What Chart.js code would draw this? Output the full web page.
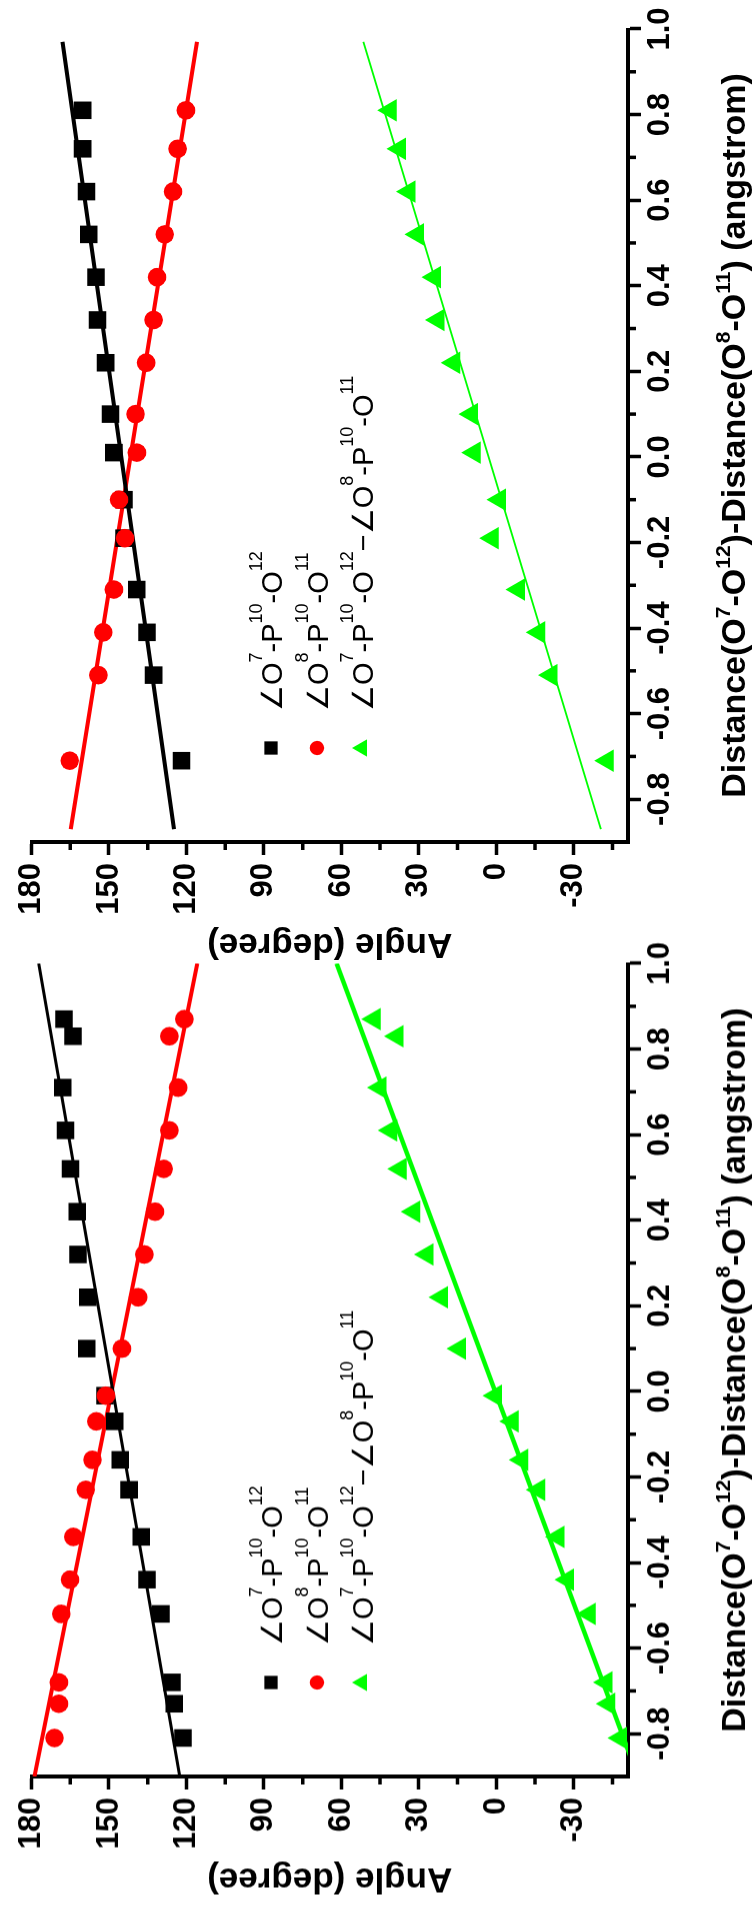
<!DOCTYPE html>
<html>
<head>
<meta charset="utf-8">
<script src="https://cdn.jsdelivr.net/npm/chart.js@4.4.0/dist/chart.umd.min.js"></script>
<style>
html, body { margin: 0; padding: 0; background: #fff; }
body { width: 754px; height: 1911px; position: relative; overflow: hidden; }
.panel { position: absolute; left: 0; top: 0; width: 977px; height: 754px; transform-origin: 0 0; }
#p1 { transform: translate(0px, 977px) rotate(-90deg); }
#p2 { transform: translate(0px, 1911.5px) rotate(-90deg); }
</style>
</head>
<body>
<div class="panel" id="p1"><canvas id="c1" width="977" height="754"></canvas></div>
<div class="panel" id="p2"><canvas id="c2" width="977" height="754"></canvas></div>
<script>
// axis ticks
var distTicks = [-0.8, -0.6, -0.4, -0.2, 0.0, 0.2, 0.4, 0.6, 0.8, 1.0];
var distMinor = [-0.7, -0.5, -0.3, -0.1, 0.1, 0.3, 0.5, 0.7, 0.9];
var angleTicks = [-30, 0, 30, 60, 90, 120, 150, 180];
var angleMinor = [-45, -15, 15, 45, 75, 105, 135, 165];

// legend names (^{..} = superscript)
var names = ['\u2220O^{7}-P^{10}-O^{12}', '\u2220O^{8}-P^{10}-O^{11}',
             '\u2220O^{7}-P^{10}-O^{12}\u2212\u2220O^{8}-P^{10}-O^{11}'];
var xTitle = 'Distance(O^{7}-O^{12})-Distance(O^{8}-O^{11}) (angstrom)';

// upper panel
var distA = [0.81, 0.72, 0.62, 0.52, 0.42, 0.32, 0.22, 0.10, 0.01, -0.10, -0.19, -0.31, -0.41, -0.51, -0.71];
var angA1 = [160.2, 160.2, 158.7, 157.8, 155.0, 154.4, 151.3, 149.4, 148.1, 144.2, 144.2, 139.2, 135.3, 132.7, 121.9];
var angA2 = [120.2, 123.4, 125.2, 128.4, 131.4, 132.7, 135.6, 139.7, 139.2, 146.1, 143.8, 148.1, 152.2, 154.1, 165.2];
var angA3 = [41.1, 37.5, 33.8, 30.5, 23.9, 22.6, 16.5, 9.6, 8.5, -1.2, 1.6, -8.6, -16.4, -21.2, -43.0];
var fitDistA = [0.97, -0.87];
var fitA1 = [168.0, 124.8];
var fitA2 = [115.9, 164.8];
var fitA3 = [51.5, -40.5];

// lower panel
var distB = [0.87, 0.83, 0.71, 0.61, 0.52, 0.42, 0.32, 0.22, 0.10, -0.01, -0.07, -0.16, -0.23, -0.34, -0.44, -0.52, -0.68, -0.73, -0.81];
var angB1 = [167.4, 163.9, 167.9, 166.8, 164.9, 162.3, 162.0, 158.2, 158.6, 151.5, 147.8, 145.6, 142.2, 137.5, 135.3, 129.9, 125.6, 124.7, 121.3];
var angB2 = [120.8, 126.6, 123.2, 126.6, 128.8, 132.2, 136.3, 138.7, 145.0, 151.2, 154.9, 156.4, 159.0, 163.8, 165.1, 168.5, 169.4, 169.4, 171.1];
var angB3 = [47.3, 38.5, 45.0, 40.9, 37.2, 32.0, 26.8, 21.2, 14.3, 0.3, -6.2, -9.9, -16.4, -23.9, -27.6, -36.0, -42.5, -43.5, -48.1];
var fitDistB = [1.0, -0.9];
var fitB1 = [177.2, 122.6];
var fitB2 = [115.8, 178.9];
var fitB3 = [61.8, -54.8];

var cores = ['#000000', '#ff0000', '#00ff00'];
var styles = ['rect', 'circle', 'triangle'];
var radii = [12.4, 9.3, 13];
var legendRadii = [9.4, 7.2, 10];
var FONT = "'Liberation Sans', Arial, sans-serif";

function pts(xs, ys) {
    return xs.map(function(x, i) { return {x: x, y: ys[i]}; });
}

function richParts(str) {
    var out = [], re = /\^\{([^}]*)\}/g, last = 0, m;
    while ((m = re.exec(str))) {
        if (m.index > last) out.push({t: str.slice(last, m.index), sup: false});
        out.push({t: m[1], sup: true});
        last = re.lastIndex;
    }
    if (last < str.length) out.push({t: str.slice(last), sup: false});
    return out;
}

function drawRich(ctx, str, x, y, f, center) {
    var parts = richParts(str), w = 0;
    parts.forEach(function(p) {
        ctx.font = p.sup ? f.sup : f.main;
        p.w = ctx.measureText(p.t).width;
        w += p.w;
    });
    var cx = center ? x - w / 2 : x;
    ctx.textAlign = 'left';
    ctx.textBaseline = 'alphabetic';
    ctx.fillStyle = '#000';
    parts.forEach(function(p) {
        ctx.font = p.sup ? f.sup : f.main;
        ctx.fillText(p.t, cx, p.sup ? y - f.rise : y);
        cx += p.w;
    });
}

var decor = {
    id: 'decor',
    afterDraw: function(chart) {
        var ctx = chart.ctx, xs = chart.scales.x, ys = chart.scales.y, a = chart.chartArea;
        ctx.save();
        // minor ticks
        ctx.strokeStyle = '#000';
        ctx.lineWidth = 3.5;
        ctx.beginPath();
        distMinor.forEach(function(v) {
            var p = xs.getPixelForValue(v);
            ctx.moveTo(p, a.bottom); ctx.lineTo(p, a.bottom + 8);
        });
        angleMinor.forEach(function(v) {
            var p = ys.getPixelForValue(v);
            ctx.moveTo(a.left, p); ctx.lineTo(a.left - 8, p);
        });
        ctx.stroke();
        // legend
        var rows = [271, 317, 362];
        names.forEach(function(n, i) {
            ctx.fillStyle = cores[i];
            ctx.strokeStyle = cores[i];
            Chart.helpers.drawPoint(ctx, {pointStyle: styles[i], radius: legendRadii[i], borderWidth: 0},
                229, rows[i]);
            drawRich(ctx, n, 266, rows[i] + 11,
                {main: "29px " + FONT, sup: "18px " + FONT, rise: 20}, false);
        });
        // x axis title
        drawRich(ctx, xTitle, (a.left + a.right) / 2, 745,
            {main: "bold 34px " + FONT, sup: "bold 21px " + FONT, rise: 15}, true);
        ctx.restore();
    }
};

function build(id, dist, a1, a2, a3, fd, f1, f2, f3, widths) {
    var sets = [a1, a2, a3], fits = [f1, f2, f3], datasets = [];
    sets.forEach(function(s, i) {
        datasets.push({
            type: 'scatter',
            label: names[i],
            data: pts(dist, s),
            pointStyle: styles[i],
            pointRadius: radii[i],
            pointBorderWidth: 0,
            backgroundColor: cores[i],
            borderColor: cores[i],
            showLine: false,
            order: 3 - i
        });
    });
    fits.forEach(function(f, i) {
        datasets.push({
            type: 'line',
            label: 'fit' + i,
            data: pts(fd, f),
            borderColor: cores[i],
            borderWidth: widths[i],
            pointRadius: 0,
            fill: false,
            tension: 0,
            order: 10 + i
        });
    });

    return new Chart(document.getElementById(id), {
        type: 'scatter',
        plugins: [decor],
        data: {datasets: datasets},
        options: {
            responsive: false,
            animation: false,
            events: [],
            layout: {padding: {left: 0, top: 31.5, right: 29, bottom: 0}},
            plugins: {legend: {display: false}, tooltip: {enabled: false}},
            scales: {
                x: {
                    type: 'linear',
                    position: 'bottom',
                    min: -0.9,
                    max: 1.0,
                    afterBuildTicks: function(s) { s.ticks = distTicks.map(function(v) { return {value: v}; }); },
                    afterFit: function(s) { s.height = 126; },
                    ticks: {
                        autoSkip: false, maxRotation: 0, minRotation: 0, padding: 1, color: '#000',
                        font: {family: FONT, size: 31, weight: 'bold'},
                        callback: function(v) { return Number(v).toFixed(1); }
                    },
                    grid: {drawOnChartArea: false, drawTicks: true, tickLength: 13, tickWidth: 3.5, tickColor: '#000'},
                    border: {display: true, color: '#000', width: 4}
                },
                y: {
                    type: 'linear',
                    position: 'left',
                    min: -51,
                    max: 180,
                    afterBuildTicks: function(s) { s.ticks = angleTicks.map(function(v) { return {value: v}; }); },
                    afterFit: function(s) { s.width = 135; },
                    ticks: {
                        autoSkip: false, padding: 8, color: '#000',
                        font: {family: FONT, size: 31, weight: 'bold'},
                        callback: function(v) { return String(v); }
                    },
                    grid: {drawOnChartArea: false, drawTicks: true, tickLength: 13, tickWidth: 3.5, tickColor: '#000'},
                    border: {display: true, color: '#000', width: 4},
                    title: {
                        display: true, text: 'Angle (degree)', color: '#000',
                        font: {family: FONT, size: 35, weight: 'bold'},
                        padding: {top: 12, bottom: 0}
                    }
                }
            }
        }
    });
}

build('c1', distA, angA1, angA2, angA3, fitDistA, fitA1, fitA2, fitA3, [4, 4, 1.8]);
build('c2', distB, angB1, angB2, angB3, fitDistB, fitB1, fitB2, fitB3, [3, 4, 4.5]);
</script>
</body>
</html>
